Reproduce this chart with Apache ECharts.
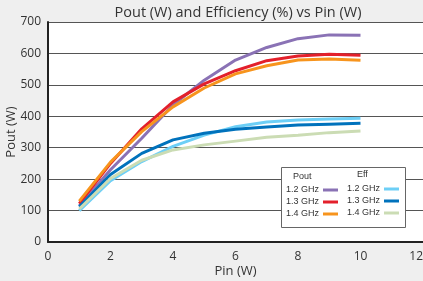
<!DOCTYPE html>
<html>
<head>
<meta charset="utf-8">
<script src="https://cdn.jsdelivr.net/npm/echarts@6/dist/echarts.min.js"></script>
<style>
  html, body { margin: 0; padding: 0; background: #efefef; }
  #chart { width: 423px; height: 281px; }
</style>
</head>
<body>
<div id="chart"></div>
<script>
// Pin (W) values
var pin = [1, 2, 3, 4, 5, 6, 7, 8, 9, 10];

// Pout (W)
var pout12 = [115, 230, 330, 436, 515, 579, 619, 647, 659, 658];
var pout13 = [122, 250, 360, 446, 503, 545, 577, 592, 597, 594];
var pout14 = [130, 254, 351, 430, 490, 535, 561, 579, 582, 578];

// Efficiency
var eff12 = [100, 195, 256, 304, 340, 367, 382, 388, 391, 394];
var eff13 = [112, 215, 282, 325, 346, 359, 366, 372, 375, 378];
var eff14 = [105, 202, 260, 293, 309, 321, 333, 340, 348, 353];

var colors = {
  p12: '#8a72b5', p13: '#e3202b', p14: '#f7941d',
  e12: '#6dcff6', e13: '#0072bc', e14: '#cbdcb4'
};

function pairs(ys) {
  return pin.map(function (x, i) { return [x, ys[i]]; });
}

function line(name, ys, color) {
  return {
    name: name,
    type: 'line',
    data: pairs(ys),
    symbol: 'none',
    lineStyle: { width: 3, color: color },
    itemStyle: { color: color }
  };
}

var legendText = { fontSize: 9, lineHeight: 10, color: '#333', fontFamily: 'Liberation Sans', padding: [0, -1, 0, 0] };

var myChart = echarts.init(document.getElementById('chart'));

var option = {
  backgroundColor: '#efefef',
  animation: false,
  textStyle: { fontFamily: 'Open Sans' },
  title: {
    text: 'Pout (W) and Efficiency (%) vs Pin (W)',
    left: 233,
    top: 0,
    textAlign: 'center',
    textStyle: { fontSize: 14.5, fontWeight: 'normal', color: '#333', fontFamily: 'Open Sans' }
  },
  grid: {
    left: 48, right: 0, top: 22, bottom: 39,
    outerBoundsMode: 'none',
    show: true, backgroundColor: '#fff', borderWidth: 0
  },
  graphic: [
    { type: 'rect', left: 281, top: 167, shape: { width: 124, height: 60 },
      style: { fill: '#fff', stroke: '#666', lineWidth: 1 }, z: 5 },
    { type: 'text', left: 293, top: 172, z: 6,
      style: { text: 'Pout', fontSize: 9, fill: '#333', fontFamily: 'Liberation Sans' } },
    { type: 'text', left: 357, top: 170, z: 6,
      style: { text: 'Eff', fontSize: 9, fill: '#333', fontFamily: 'Liberation Sans' } }
  ],
  legend: [
    {
      data: ['Pout 1.2 GHz', 'Pout 1.3 GHz', 'Pout 1.4 GHz'],
      orient: 'vertical', left: 286, top: 185, align: 'right',
      itemWidth: 15, itemHeight: 3, itemGap: 2, padding: 0,
      icon: 'rect', z: 7,
      formatter: function (n) { return n.replace('Pout ', ''); },
      textStyle: legendText
    },
    {
      data: ['Eff 1.2 GHz', 'Eff 1.3 GHz', 'Eff 1.4 GHz'],
      orient: 'vertical', left: 347, top: 184, align: 'right',
      itemWidth: 15, itemHeight: 3, itemGap: 2, padding: 0,
      icon: 'rect', z: 7,
      formatter: function (n) { return n.replace('Eff ', ''); },
      textStyle: legendText
    }
  ],
  xAxis: {
    type: 'value',
    min: 0, max: 12, interval: 2,
    name: 'Pin (W)',
    nameLocation: 'middle',
    nameGap: 23,
    nameMoveOverlap: false,
    nameTextStyle: { fontSize: 13, color: '#333' },
    axisLine: { lineStyle: { color: '#222', width: 2 } },
    axisTick: { show: false },
    axisLabel: { fontSize: 12, color: '#333', margin: 9, alignMaxLabel: 'right' },
    splitLine: { show: false }
  },
  yAxis: {
    type: 'value',
    min: 0, max: 700, interval: 100,
    name: 'Pout (W)',
    nameLocation: 'middle',
    nameGap: 30,
    nameMoveOverlap: false,
    nameTextStyle: { fontSize: 13, color: '#333' },
    axisLine: { show: true, lineStyle: { color: '#222', width: 2 } },
    axisTick: { show: false },
    axisLabel: { fontSize: 12, color: '#333', margin: 7 },
    splitLine: { lineStyle: { color: '#555', width: 1 } }
  },
  series: [
    line('Pout 1.2 GHz', pout12, colors.p12),
    line('Pout 1.3 GHz', pout13, colors.p13),
    line('Pout 1.4 GHz', pout14, colors.p14),
    line('Eff 1.2 GHz', eff12, colors.e12),
    line('Eff 1.3 GHz', eff13, colors.e13),
    line('Eff 1.4 GHz', eff14, colors.e14)
  ]
};

myChart.setOption(option);
</script>
</body>
</html>
